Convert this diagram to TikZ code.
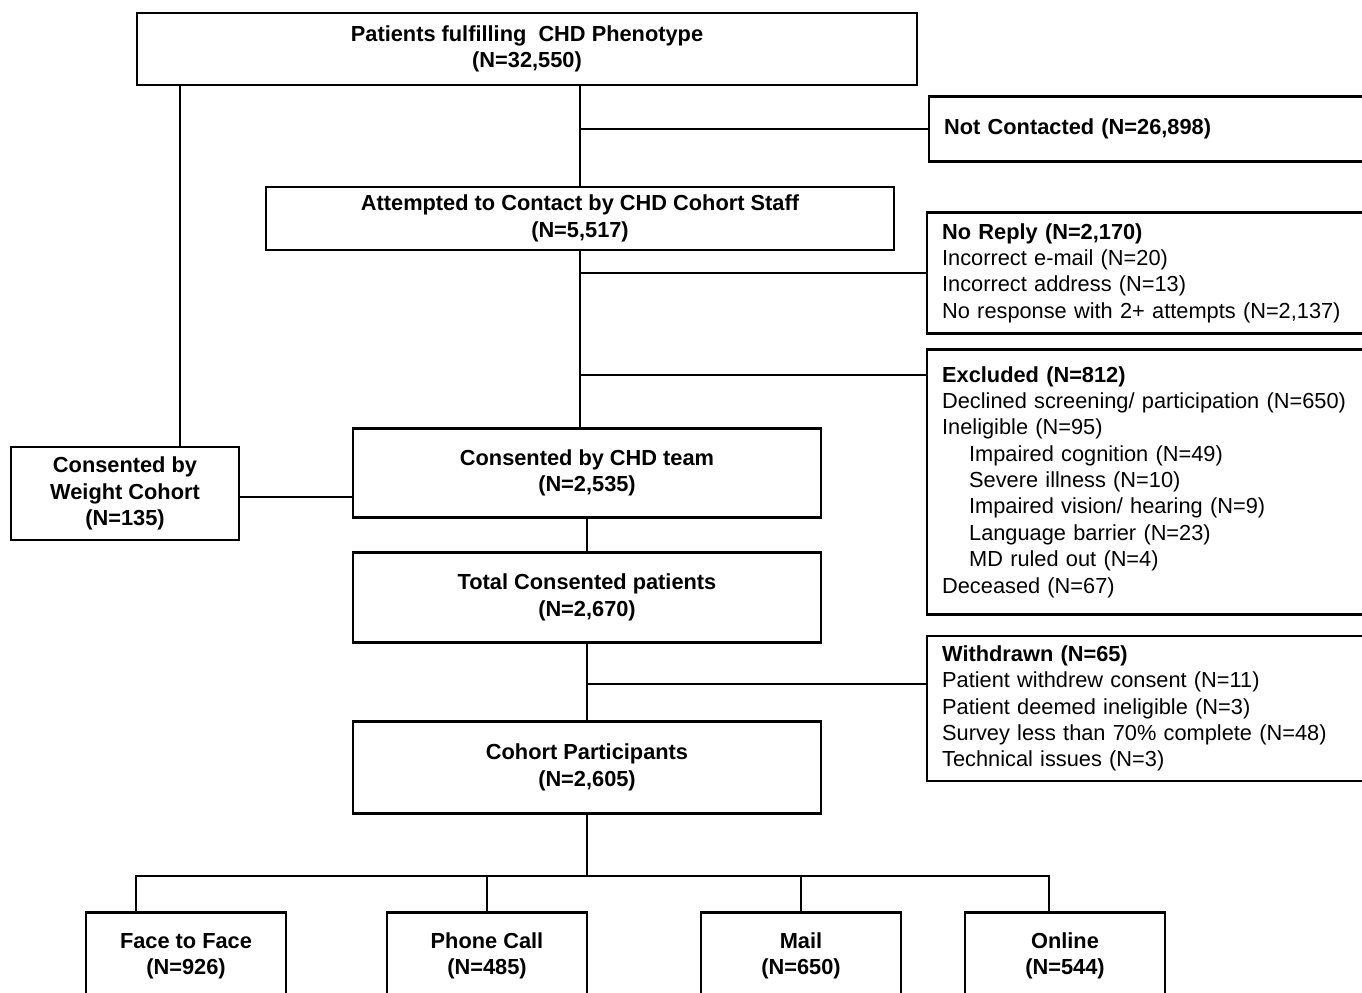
\documentclass[tikz,border=0pt]{standalone}
\usepackage{fontspec}
\setmainfont{Liberation Sans}
\usetikzlibrary{positioning, calc}

\begin{document}
\begin{tikzpicture}[x=0.02cm, y=-0.02cm,
        every node/.style={font=\fontsize{12.4}{15}\selectfont},
        box/.style={draw, line width=1.3pt, align=center, inner sep=0pt,
          font=\fontsize{12.4}{15}\selectfont\bfseries},
        sidebox/.style={draw, line width=1.3pt, align=left, anchor=west,
          inner xsep=0.3cm, inner ysep=0pt, text width=8.88cm},
        link/.style={line width=1.2pt}]
    \useasboundingbox (0,0) rectangle (1362,993);
    \clip (0,0) rectangle (1362,993);

    % main column
    \node[box, minimum width=15.6cm, minimum height=1.44cm] (pheno) at (527,49) {Patients fulfilling\ \ CHD Phenotype\\(N=32,550)};
    \node[box, minimum width=12.56cm, minimum height=1.26cm] (attempt) at (580,218.5) {Attempted to Contact by CHD Cohort Staff\\(N=5,517)};
    \node[box, minimum width=9.36cm, minimum height=1.78cm] (chdteam) at (587,473) {Consented by CHD team\\(N=2,535)};
    \node[box, minimum width=9.36cm, minimum height=1.8cm] (total) at (587,597.5) {Total Consented patients\\(N=2,670)};
    \node[box, minimum width=9.36cm, minimum height=1.84cm] (cohort) at (587,767.5) {Cohort Participants\\(N=2,605)};
    \node[box, minimum width=4.56cm, minimum height=1.86cm] (weight) at (125,493.5) {Consented by\\Weight Cohort\\(N=135)};

    % side boxes, cut by the right edge
    \node[sidebox, minimum height=1.3cm, font=\fontsize{12.4}{15}\selectfont\bfseries] (notcont) at (928,129) {Not Contacted (N=26,898)};
    \node[sidebox, minimum height=2.42cm] (noreply) at (926,273) {\textbf{No Reply (N=2,170)}\\Incorrect e-mail (N=20)\\Incorrect address (N=13)\\No response with 2+ attempts (N=2,137)};
    \node[sidebox, minimum height=5.3cm] (excluded) at (926,482) {\textbf{Excluded (N=812)}\\Declined screening/ participation (N=650)\\Ineligible (N=95)\\
      \hspace*{0.54cm}Impaired cognition (N=49)\\\hspace*{0.54cm}Severe illness (N=10)\\\hspace*{0.54cm}Impaired vision/ hearing (N=9)\\
      \hspace*{0.54cm}Language barrier (N=23)\\\hspace*{0.54cm}MD ruled out (N=4)\\Deceased (N=67)};
    \node[sidebox, minimum height=2.9cm] (withdrawn) at (926,708.5) {\textbf{Withdrawn (N=65)}\\Patient withdrew consent (N=11)\\Patient deemed ineligible (N=3)\\Survey less than 70\% complete (N=48)\\Technical issues (N=3)};

    % modes of survey
    \node[box, minimum width=4cm, minimum height=1.74cm] (face) at (186,956) {Face to Face\\(N=926)};
    \node[box, minimum width=4cm, minimum height=1.74cm] (phone) at (487,956) {Phone Call\\(N=485)};
    \node[box, minimum width=4cm, minimum height=1.74cm] (mail) at (801,956) {Mail\\(N=650)};
    \node[box, minimum width=4cm, minimum height=1.74cm] (online) at (1065,956) {Online\\(N=544)};

    \coordinate (exclin) at ($(excluded.north west)+(0,27)$);
    \coordinate (wdin) at ($(withdrawn.north west)+(0,49)$);
    \coordinate (wdrop) at ($(weight.north west)+(170,0)$);
    \coordinate (wout) at ($(weight.east)+(0,3.5)$);
    \coordinate (busy) at (0,876);
    \coordinate (facedrop) at ($(face.north west)+(51,0)$);
    \coordinate (onlinedrop) at ($(online.north)+(-16,0)$);

    \draw[link] (pheno.south -| attempt.north) -- (attempt.north);
    \draw[link] (attempt.north |- notcont.west) -- (notcont.west);
    \draw[link] (attempt.south) -- (attempt.south |- chdteam.north);
    \draw[link] (attempt.south |- noreply.west) -- (noreply.west);
    \draw[link] (attempt.south |- exclin) -- (exclin);
    \draw[link] (pheno.south -| wdrop) -- (wdrop);
    \draw[link] (wout) -- (wout -| chdteam.west);
    \draw[link] (chdteam.south) -- (total.north);
    \draw[link] (total.south) -- (cohort.north);
    \draw[link] (total.south |- wdin) -- (wdin);
    \draw[link] (cohort.south) -- (cohort.south |- busy);
    \draw[link] (facedrop) -- (facedrop |- busy) -- (onlinedrop |- busy) -- (onlinedrop);
    \draw[link] (phone.north) -- (phone.north |- busy);
    \draw[link] (mail.north) -- (mail.north |- busy);
\end{tikzpicture}
\end{document}
